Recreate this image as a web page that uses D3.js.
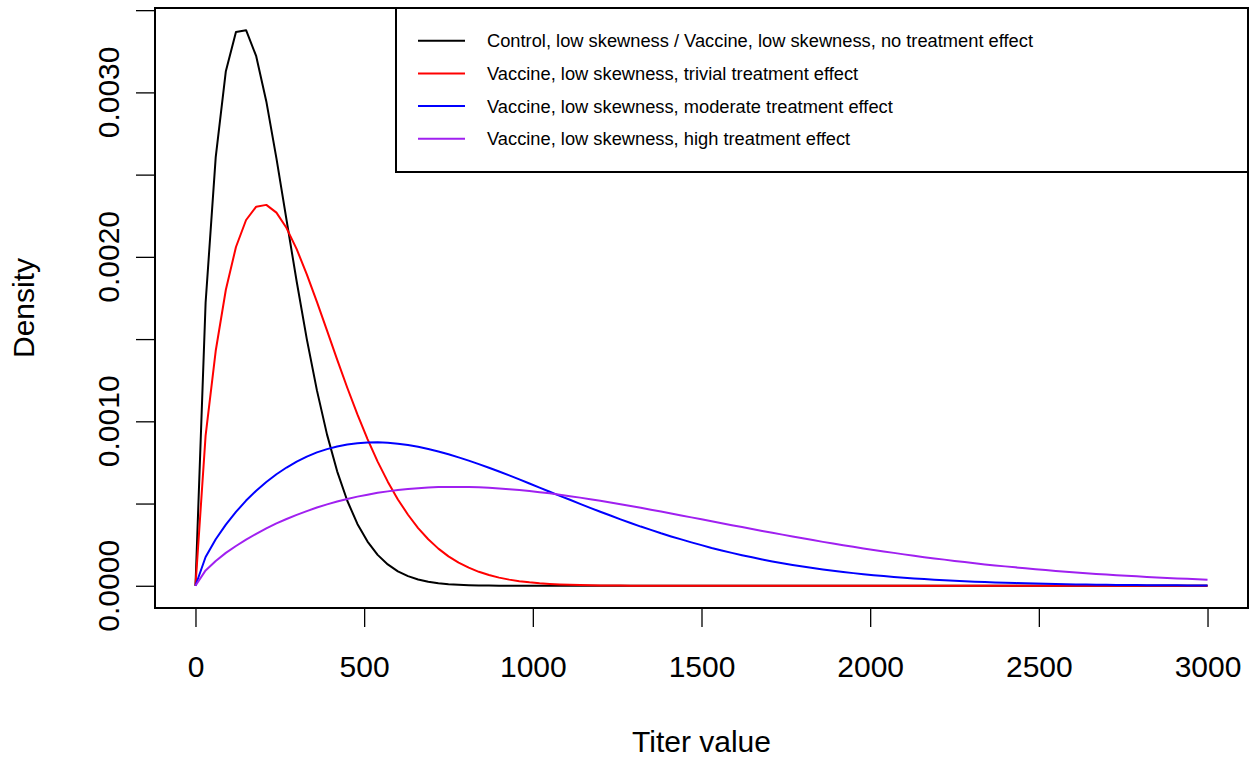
<!DOCTYPE html>
<html>
<head>
<meta charset="utf-8">
<script src="https://cdn.jsdelivr.net/npm/d3@7"></script>
<style>
  body { margin: 0; background: #fff; }
  svg { display: block; font-family: "Liberation Sans", Arial, Helvetica, sans-serif; }
</style>
</head>
<body>
<svg id="chart" width="1250" height="757"></svg>
<script>
// titer grid, 0..3000 by 30
const titers = [
  0, 30, 60, 90, 120, 150, 180, 210, 240, 270, 300, 330, 360, 390, 420, 450, 480, 510, 540, 570,
  600, 630, 660, 690, 720, 750, 780, 810, 840, 870, 900, 930, 960, 990, 1020, 1050, 1080, 1110, 1140, 1170,
  1200, 1230, 1260, 1290, 1320, 1350, 1380, 1410, 1440, 1470, 1500, 1530, 1560, 1590, 1620, 1650, 1680, 1710, 1740, 1770,
  1800, 1830, 1860, 1890, 1920, 1950, 1980, 2010, 2040, 2070, 2100, 2130, 2160, 2190, 2220, 2250, 2280, 2310, 2340, 2370,
  2400, 2430, 2460, 2490, 2520, 2550, 2580, 2610, 2640, 2670, 2700, 2730, 2760, 2790, 2820, 2850, 2880, 2910, 2940, 2970,
  3000
];

// density values
const controlNoEffect = [
  0, 0.001721, 0.002606, 0.003129, 0.003367, 0.003378, 0.003220, 0.002945, 0.002599, 0.002223,
  0.001850, 0.001500, 0.001188, 0.000919, 0.000696, 0.000517, 0.000376, 0.000269, 0.000188, 0.000130,
  0.0000878, 0.0000584, 0.0000382, 0.0000246, 0.0000156, 0.0000097, 0.0000060, 0.0000036, 0.0000022, 0.0000013,
  0.0000007, 0.0000004, 0.0000002, 0.0000001, 0, 0, 0, 0, 0, 0,
  0, 0, 0, 0, 0, 0, 0, 0, 0, 0,
  0, 0, 0, 0, 0, 0, 0, 0, 0, 0,
  0, 0, 0, 0, 0, 0, 0, 0, 0, 0,
  0, 0, 0, 0, 0, 0, 0, 0, 0, 0,
  0, 0, 0, 0, 0, 0, 0, 0, 0, 0,
  0, 0, 0, 0, 0, 0, 0, 0, 0, 0,
  0
];

const vaccineTrivial = [
  0, 0.000913, 0.001429, 0.001800, 0.002060, 0.002224, 0.002305, 0.002316, 0.002269, 0.002175,
  0.002047, 0.001894, 0.001726, 0.001551, 0.001375, 0.001204, 0.001042, 0.000892, 0.000755, 0.000633,
  0.000525, 0.000432, 0.000351, 0.000283, 0.000226, 0.000179, 0.000141, 0.000110, 0.0000849, 0.0000651,
  0.0000495, 0.0000374, 0.0000280, 0.0000208, 0.0000153, 0.0000112, 0.0000082, 0.0000059, 0.0000042, 0.0000030,
  0.0000021, 0.0000015, 0.0000010, 0.0000007, 0.0000005, 0.0000003, 0.0000002, 0.0000001, 0, 0,
  0, 0, 0, 0, 0, 0, 0, 0, 0, 0,
  0, 0, 0, 0, 0, 0, 0, 0, 0, 0,
  0, 0, 0, 0, 0, 0, 0, 0, 0, 0,
  0, 0, 0, 0, 0, 0, 0, 0, 0, 0,
  0, 0, 0, 0, 0, 0, 0, 0, 0, 0,
  0
];

const vaccineModerate = [
  0, 0.000175, 0.000283, 0.000372, 0.000449, 0.000518, 0.000578, 0.000631, 0.000678, 0.000719,
  0.000755, 0.000785, 0.000811, 0.000831, 0.000847, 0.000859, 0.000867, 0.000871, 0.000872, 0.000870,
  0.000864, 0.000856, 0.000845, 0.000832, 0.000817, 0.000800, 0.000781, 0.000761, 0.000740, 0.000718,
  0.000695, 0.000671, 0.000647, 0.000622, 0.000597, 0.000572, 0.000547, 0.000523, 0.000498, 0.000474,
  0.000450, 0.000427, 0.000404, 0.000382, 0.000360, 0.000340, 0.000319, 0.000300, 0.000282, 0.000264,
  0.000247, 0.000230, 0.000215, 0.000200, 0.000186, 0.000173, 0.000160, 0.000148, 0.000137, 0.000127,
  0.000117, 0.000108, 0.0000993, 0.0000913, 0.0000838, 0.0000769, 0.0000704, 0.0000644, 0.0000588, 0.0000537,
  0.0000489, 0.0000445, 0.0000405, 0.0000368, 0.0000334, 0.0000302, 0.0000274, 0.0000247, 0.0000223, 0.0000202,
  0.0000182, 0.0000163, 0.0000147, 0.0000132, 0.0000118, 0.0000106, 0.0000095, 0.0000085, 0.0000076, 0.0000068,
  0.0000060, 0.0000054, 0.0000048, 0.0000042, 0.0000037, 0.0000033, 0.0000029, 0.0000026, 0.0000023, 0.0000020,
  0.0000018
];

const vaccineHigh = [
  0, 0.0000934, 0.000151, 0.000200, 0.000242, 0.000281, 0.000316, 0.000349, 0.000379, 0.000406,
  0.000431, 0.000454, 0.000476, 0.000495, 0.000512, 0.000528, 0.000542, 0.000554, 0.000565, 0.000574,
  0.000582, 0.000588, 0.000593, 0.000597, 0.000600, 0.000601, 0.000601, 0.000600, 0.000599, 0.000596,
  0.000592, 0.000587, 0.000582, 0.000576, 0.000569, 0.000562, 0.000554, 0.000545, 0.000536, 0.000526,
  0.000517, 0.000506, 0.000496, 0.000485, 0.000474, 0.000462, 0.000451, 0.000439, 0.000427, 0.000416,
  0.000404, 0.000392, 0.000380, 0.000368, 0.000357, 0.000345, 0.000333, 0.000322, 0.000311, 0.000300,
  0.000289, 0.000278, 0.000267, 0.000257, 0.000247, 0.000237, 0.000227, 0.000218, 0.000209, 0.000200,
  0.000191, 0.000182, 0.000174, 0.000166, 0.000159, 0.000151, 0.000144, 0.000137, 0.000130, 0.000124,
  0.000118, 0.000112, 0.000106, 0.000101, 0.0000955, 0.0000904, 0.0000855, 0.0000809, 0.0000765, 0.0000723,
  0.0000683, 0.0000645, 0.0000608, 0.0000573, 0.0000540, 0.0000509, 0.0000479, 0.0000450, 0.0000423, 0.0000397,
  0.0000372
];

const seriesNames = [
  'Control, low skewness / Vaccine, low skewness, no treatment effect',
  'Vaccine, low skewness, trivial treatment effect',
  'Vaccine, low skewness, moderate treatment effect',
  'Vaccine, low skewness, high treatment effect'
];
const seriesColors = ['#000000', '#ff0000', '#0000ff', '#a020f0'];
const seriesValues = [controlNoEffect, vaccineTrivial, vaccineModerate, vaccineHigh];

const xTicks = [0, 500, 1000, 1500, 2000, 2500, 3000];
const yTicks = [0, 0.0005, 0.001, 0.0015, 0.002, 0.0025, 0.003, 0.0035];
const yLabelTicks = [0, 0.001, 0.002, 0.003];

const svg = d3.select('#chart');

// plot box like R's base graphics (4% padding on both axes)
const box = { left: 155, right: 1248, top: 8, bottom: 608 };
const xMax = d3.max(titers);
const yMax = d3.max(seriesValues, s => d3.max(s));

const xScale = d3.scaleLinear()
  .domain([-0.04 * xMax, 1.04 * xMax])
  .range([box.left, box.right]);

const yScale = d3.scaleLinear()
  .domain([-0.04 * yMax, 1.04 * yMax])
  .range([box.bottom, box.top]);

const fontSize = 30;

// x axis
const xAxis = svg.append('g')
  .attr('transform', `translate(0, ${box.bottom})`)
  .call(d3.axisBottom(xScale).tickValues(xTicks).tickSize(19).tickPadding(0).tickFormat(d3.format('d')));
xAxis.select('.domain').remove();
xAxis.append('line')
  .attr('x1', xScale(xTicks[0])).attr('x2', xScale(xTicks[xTicks.length - 1]))
  .attr('stroke', '#000').attr('stroke-width', 1.3);
xAxis.selectAll('.tick line').attr('stroke', '#000').attr('stroke-width', 1.3);
xAxis.selectAll('.tick text')
  .attr('y', 69)
  .attr('dy', null)
  .attr('fill', '#000')
  .style('font-size', fontSize + 'px')
  .style('font-family', '"Liberation Sans", Arial, Helvetica, sans-serif');

// y axis
const yAxis = svg.append('g')
  .attr('transform', `translate(${box.left}, 0)`)
  .call(d3.axisLeft(yScale).tickValues(yTicks).tickSize(19).tickFormat(''));
yAxis.select('.domain').remove();
yAxis.append('line')
  .attr('y1', yScale(yTicks[0])).attr('y2', yScale(yTicks[yTicks.length - 1]))
  .attr('stroke', '#000').attr('stroke-width', 1.3);
yAxis.selectAll('.tick line').attr('stroke', '#000').attr('stroke-width', 1.3);

svg.append('g')
  .selectAll('text')
  .data(yLabelTicks)
  .enter().append('text')
  .attr('transform', d => `translate(${box.left - 36}, ${yScale(d)}) rotate(-90)`)
  .attr('text-anchor', 'middle')
  .style('font-size', fontSize + 'px')
  .text(d => d3.format('.4f')(d));

// axis titles
svg.append('text')
  .attr('x', (box.left + box.right) / 2)
  .attr('y', 752)
  .attr('text-anchor', 'middle')
  .style('font-size', fontSize + 'px')
  .text('Titer value');

svg.append('text')
  .attr('transform', `translate(34, ${(box.top + box.bottom) / 2}) rotate(-90)`)
  .attr('text-anchor', 'middle')
  .style('font-size', fontSize + 'px')
  .text('Density');

// curves
const line = d3.line()
  .x((d, i) => xScale(titers[i]))
  .y(d => yScale(d));

svg.append('g')
  .selectAll('path')
  .data(seriesValues)
  .enter().append('path')
  .attr('d', line)
  .attr('fill', 'none')
  .attr('stroke', (d, i) => seriesColors[i])
  .attr('stroke-width', 2)
  .attr('stroke-linejoin', 'round');

// plot frame
svg.append('rect')
  .attr('x', box.left).attr('y', box.top)
  .attr('width', box.right - box.left).attr('height', box.bottom - box.top)
  .attr('fill', 'none').attr('stroke', '#000').attr('stroke-width', 2);

// legend (top right)
const legendBox = { left: 396, top: box.top, right: box.right, bottom: 172 };
svg.append('rect')
  .attr('x', legendBox.left).attr('y', legendBox.top)
  .attr('width', legendBox.right - legendBox.left).attr('height', legendBox.bottom - legendBox.top)
  .attr('fill', '#fff').attr('stroke', '#000').attr('stroke-width', 2);

const legend = svg.append('g')
  .selectAll('g')
  .data(seriesNames)
  .enter().append('g')
  .attr('transform', (d, i) => `translate(0, ${40.7 + i * 32.7})`);

legend.append('line')
  .attr('x1', 418).attr('x2', 465)
  .attr('stroke', (d, i) => seriesColors[i])
  .attr('stroke-width', 2);

legend.append('text')
  .attr('x', 487)
  .attr('dy', '0.35em')
  .style('font-size', '18.3px')
  .text(d => d);
</script>
</body>
</html>
